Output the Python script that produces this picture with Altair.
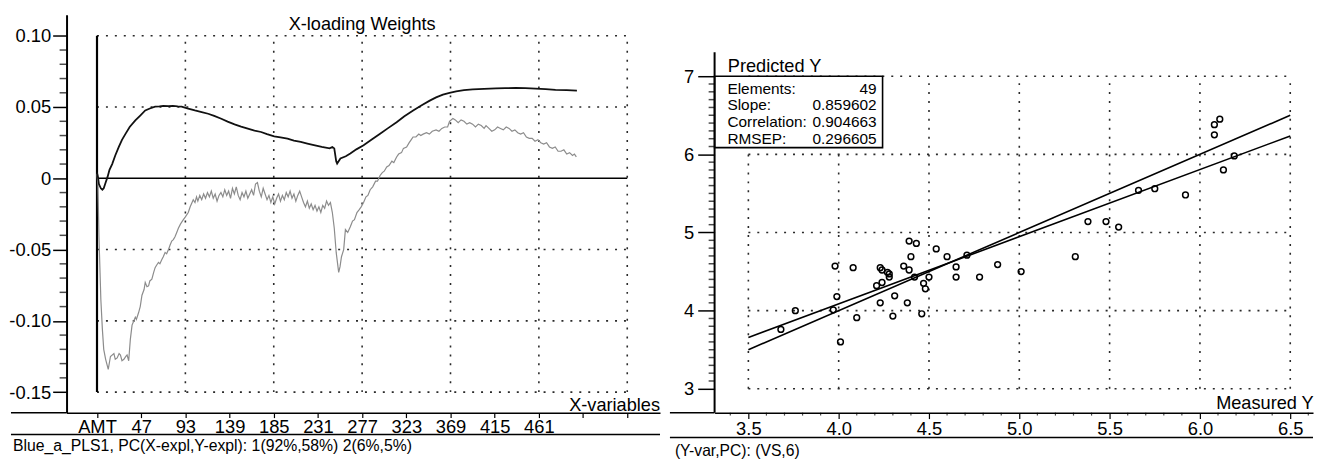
import altair as alt
import pandas as pd

FONT = "Liberation Sans"

# ---------------- Left panel: X-loading weights ----------------
pc1_x = [1, 2, 3, 5, 6.6, 8, 10, 12, 14, 16.8, 20, 23.7, 27, 30.5, 35, 40.9, 46, 51.2, 56, 61.5,
         66, 70, 75.4, 80, 85, 89.1, 95, 102.9, 110, 116.7, 123, 130.4, 137, 144.2, 151, 158,
         165, 171.8, 178, 185.5, 192, 199.3, 206, 213.1, 220, 226.8, 235, 243.1, 246, 248, 250,
         251, 254.4, 260, 264.7, 271, 278.5, 287, 295.7, 304, 312.9, 321, 330.1, 339, 347.4,
         354, 361.1, 368, 374.9, 383, 392.1, 404, 416.3, 426, 436.9, 447, 457.6, 468, 478.3,
         490, 500.6]
pc1_w = [0.004, 0.001, -0.004, -0.007, -0.008, -0.007, -0.003, 0.001, 0.006, 0.010, 0.016, 0.022,
         0.027, 0.031, 0.036, 0.0406, 0.044, 0.0476, 0.049, 0.0503, 0.0505, 0.0508, 0.0506,
         0.0508, 0.0504, 0.0503, 0.049, 0.0476, 0.0465, 0.0453, 0.0438, 0.0418, 0.0398, 0.0378,
         0.0362, 0.0348, 0.0335, 0.0325, 0.031, 0.0295, 0.0287, 0.0279, 0.0265, 0.0255, 0.0243,
         0.0232, 0.022, 0.021, 0.022, 0.021, 0.012, 0.0104, 0.0139, 0.0155, 0.0174, 0.0203,
         0.0232, 0.0272, 0.0313, 0.0352, 0.0394, 0.0435, 0.0476, 0.0512, 0.0545, 0.0568, 0.0587,
         0.0600, 0.061, 0.0618, 0.0624, 0.0628, 0.0631, 0.0633, 0.0634, 0.0632, 0.0629, 0.0625,
         0.062, 0.0618, 0.0615]

pc2_x = [1, 2, 3, 5, 6.6, 8, 10, 12.7, 15, 18.6, 20, 22, 24, 25.4, 27, 29, 31, 32.3, 34, 35.7,
         37.5, 40.9, 42, 44.4, 46, 47.8, 50, 51.2, 53, 54.7, 56, 58.1, 60, 61.5, 63, 65, 66.5,
         68.5, 70, 71.9, 73.5, 75.4, 77, 78.8, 80.5, 82.2, 84, 85.7, 88, 90.9, 93, 96, 98, 101.2,
         103, 104.6,
         106, 108, 110, 112, 114, 116, 118, 120, 122, 124, 126, 128, 130, 132, 134, 136, 138,
         140, 142, 144, 146, 148, 150, 152, 154, 156, 158, 160, 162, 164, 166, 168, 170, 172,
         174, 176, 178, 180, 182, 184, 186, 188, 190, 192, 194, 196, 198, 200, 202, 204, 206,
         208, 210, 212, 214, 216, 218, 220, 222, 224, 226, 228, 230, 232, 234, 236, 238, 240,
         242, 244, 246,
         248, 250, 252.6, 254, 255.5, 257.8, 259.6, 262, 264.7, 267, 269, 271.6, 274, 276, 278.5,
         281, 283, 285.4, 288, 291, 293, 295.7, 298, 300, 302.6, 305, 308, 310, 312.9, 315, 318,
         320, 323.3, 326, 328, 330, 333, 336, 338, 340.5, 344, 347, 350, 354, 357, 360, 363,
         366, 368, 371.5, 374, 377, 380, 383, 386, 389, 392, 395, 398, 401, 404, 406, 409, 412,
         415, 418, 421, 424, 427, 430, 433, 436, 439, 442, 445, 448, 451, 454, 457, 460, 463,
         466, 469, 472, 475, 478, 481, 484, 487, 490, 493, 496, 498, 500]
pc2_w = [0.003, -0.005, -0.04, -0.085, -0.106, -0.12, -0.127, -0.134, -0.125, -0.123, -0.127,
         -0.126, -0.123, -0.124, -0.128, -0.127, -0.125, -0.124, -0.128, -0.113, -0.103, -0.0975,
         -0.099, -0.094, -0.09, -0.082, -0.078, -0.073, -0.076, -0.0755, -0.072, -0.0708, -0.066,
         -0.0627, -0.061, -0.059, -0.06, -0.057, -0.055, -0.052, -0.053, -0.050, -0.047, -0.044,
         -0.043, -0.041, -0.038, -0.035, -0.032, -0.029, -0.027, -0.024, -0.02, -0.015, -0.017,
         -0.013,
         -0.016, -0.012, -0.015, -0.011, -0.014, -0.010, -0.013, -0.009, -0.014, -0.011, -0.016,
         -0.012, -0.010, -0.013, -0.008, -0.012, -0.009, -0.014, -0.007, -0.011, -0.006, -0.012,
         -0.015, -0.010, -0.013, -0.009, -0.014, -0.011, -0.008, -0.012, -0.004, -0.003, -0.009,
         -0.013, -0.007, -0.011, -0.015, -0.012, -0.017, -0.013, -0.018, -0.014, -0.011, -0.016,
         -0.012, -0.015, -0.010, -0.013, -0.009, -0.014, -0.011, -0.016, -0.012, -0.009, -0.013,
         -0.017, -0.020, -0.016, -0.021, -0.018, -0.022, -0.019, -0.023, -0.020, -0.024, -0.019,
         -0.021, -0.016, -0.019, -0.017, -0.024,
         -0.035, -0.052, -0.066, -0.062, -0.055, -0.05, -0.036, -0.038, -0.034, -0.03, -0.029,
         -0.024, -0.022, -0.020, -0.017, -0.013, -0.012, -0.008, -0.006, -0.002, -0.002, 0.002,
         0.004, 0.005, 0.008, 0.009, 0.012, 0.011, 0.015, 0.017, 0.018, 0.021, 0.022, 0.025,
         0.027, 0.029, 0.029, 0.031, 0.030, 0.031, 0.032, 0.031, 0.033, 0.034, 0.033, 0.035,
         0.036, 0.036, 0.040, 0.042, 0.041, 0.039, 0.041, 0.040, 0.038, 0.039, 0.038, 0.036,
         0.038, 0.037, 0.035, 0.037, 0.035, 0.033, 0.034, 0.036, 0.035, 0.034, 0.036, 0.035,
         0.033, 0.034, 0.032, 0.031, 0.032, 0.029, 0.028, 0.028, 0.026, 0.027, 0.025, 0.024,
         0.025, 0.022, 0.021, 0.022, 0.019, 0.019, 0.020, 0.017, 0.018, 0.016, 0.017, 0.015]

left_vgrid = [93, 185, 277, 369, 461, 553]
left_hgrid = [0.10, 0.05, -0.05, -0.10, -0.15]
left_xtick_values = [1, 47, 93, 139, 185, 231, 277, 323, 369, 415, 461, 507, 553]
left_xtick_labels = ["AMT", "47", "93", "139", "185", "231", "277", "323", "369", "415", "461", "", ""]
left_ytick_values = [0.10, 0.05, 0.0, -0.05, -0.10, -0.15]
left_ytick_labels = ["0.10", "0.05", "0", "-0.05", "-0.10", "-0.15"]
left_yminor = [round(-0.15 + 0.01 * i, 2) for i in range(26) if i % 5 != 0]
left_title = "X-loading Weights"
left_xtitle = "X-variables"
left_footer = "Blue_a_PLS1, PC(X-expl,Y-expl): 1(92%,58%) 2(6%,5%)"

# ---------------- Right panel: Predicted vs measured ----------------
measured_y = [3.68, 3.76, 3.98, 3.99, 3.97, 4.01, 4.08, 4.10, 4.23, 4.24, 4.28, 4.28, 4.21, 4.24,
              4.23, 4.31, 4.30, 4.39, 4.43, 4.40, 4.36, 4.39, 4.42, 4.38, 4.47, 4.48, 4.46, 4.50,
              4.54, 4.60, 4.65, 4.65, 4.71, 4.78, 4.88, 5.01, 5.31, 5.38, 5.48, 5.55, 5.66, 5.75,
              5.92, 6.08, 6.08, 6.11, 6.13, 6.19, 4.27]
predicted_y = [3.76, 4.00, 4.57, 4.18, 4.01, 3.60, 4.55, 3.91, 4.55, 4.52, 4.47, 4.43, 4.32, 4.36,
               4.10, 4.19, 3.93, 4.89, 4.86, 4.69, 4.57, 4.52, 4.43, 4.10, 4.35, 4.28, 3.96, 4.43,
               4.79, 4.69, 4.56, 4.43, 4.71, 4.43, 4.59, 4.50, 4.69, 5.14, 5.14, 5.07, 5.54, 5.56,
               5.48, 6.25, 6.38, 6.45, 5.80, 5.98, 4.49]
line_x = [3.5, 6.5]
target_y = [3.5, 6.5]
regression_y = [3.657, 6.235]
right_vgrid = [3.5, 4.0, 4.5, 5.0, 5.5, 6.0, 6.5]
right_hgrid = [3, 4, 5, 6, 7]
right_xminor = [round(3.4 + 0.1 * i, 1) for i in range(33) if (i + 4) % 5 != 0]
right_yminor = [round(3.0 + 0.1 * i, 1) for i in range(41) if i % 10 != 0]
stat_labels = ["Elements:", "Slope:", "Correlation:", "RMSEP:"]
stat_values = ["49", "0.859602", "0.904663", "0.296605"]
right_ytitle = "Predicted Y"
right_xtitle = "Measured Y"
right_footer = "(Y-var,PC): (VS,6)"

# ---------------- layout ----------------
W_L, W_R, H = 598, 603, 401
LX = alt.Scale(domain=[-30.7, 587.1], nice=False, zero=False)
LY = alt.Scale(domain=[-0.1644, 0.1148], nice=False, zero=False)
RX = alt.Scale(domain=[3.313, 6.626], nice=False, zero=False)
RY = alt.Scale(domain=[2.695, 7.787], nice=False, zero=False)

DOT = dict(strokeDash=[2, 7], color="#2a2a2a", strokeWidth=1.6)
TICK_FS = 18.5
TXT_FS = 18.3
STAT_FS = 15.5


def label_expr(values, labels, tol):
    parts = [f"abs(datum.value - ({v})) < {tol} ? '{l}'" for v, l in zip(values, labels)]
    return " : ".join(parts) + " : ''"


left_x_axis = alt.Axis(values=left_xtick_values, labelExpr=label_expr(left_xtick_values, left_xtick_labels, 0.5),
                       tickSize=5, tickColor="black", tickWidth=1.2, domainColor="black", domainWidth=1.5,
                       labelFont=FONT, labelFontSize=TICK_FS, labelColor="black", labelPadding=0,
                       labelFlush=False, labelOverlap=False, grid=False, title=None)
left_y_axis = alt.Axis(values=left_ytick_values, labelExpr=label_expr(left_ytick_values, left_ytick_labels, 0.001),
                       tickSize=14, tickColor="black", tickWidth=1.5, domainColor="black", domainWidth=2,
                       labelFont=FONT, labelFontSize=TICK_FS, labelColor="black", labelPadding=2,
                       labelOverlap=False, labelFlush=False, grid=False, title=None)
right_x_axis = alt.Axis(values=right_vgrid,
                        labelExpr=label_expr(right_vgrid, [f"{v:.1f}" for v in right_vgrid], 0.001),
                        tickSize=6, tickColor="black", tickWidth=1.2, domainColor="black", domainWidth=1.5,
                        labelFont=FONT, labelFontSize=TICK_FS, labelColor="black", labelPadding=1,
                        labelFlush=False, labelOverlap=False, grid=False, title=None)
right_y_axis = alt.Axis(values=right_hgrid,
                        labelExpr=label_expr(right_hgrid, [str(v) for v in right_hgrid], 0.001),
                        tickSize=17, tickColor="black", tickWidth=1.5, domain=False,
                        labelFont=FONT, labelFontSize=TICK_FS, labelColor="black", labelPadding=4,
                        labelFlush=False, labelOverlap=False, grid=False, title=None)


def LXe(f):
    return alt.X(f, type="quantitative", scale=LX, axis=left_x_axis)


def LYe(f):
    return alt.Y(f, type="quantitative", scale=LY, axis=left_y_axis)


def RXe(f):
    return alt.X(f, type="quantitative", scale=RX, axis=right_x_axis)


def RYe(f):
    return alt.Y(f, type="quantitative", scale=RY, axis=right_y_axis)


# ----- left layers -----
lv = pd.DataFrame({"g": left_vgrid, "a": -0.15, "b": 0.10})
lh = pd.DataFrame({"g": left_hgrid, "a": 1, "b": 553})
l_vgrid = alt.Chart(lv).mark_rule(**DOT).encode(x=LXe("g"), y=LYe("a"), y2="b")
l_hgrid = alt.Chart(lh).mark_rule(**DOT).encode(y=LYe("g"), x=LXe("a"), x2="b")
l_zero = alt.Chart(pd.DataFrame({"g": [0.0], "a": [1], "b": [553]})).mark_rule(
    color="black", strokeWidth=1.6).encode(y=LYe("g"), x=LXe("a"), x2="b")
l_frame = alt.Chart(pd.DataFrame({"g": [1], "a": [-0.15], "b": [0.10]})).mark_rule(
    color="black", strokeWidth=2.2).encode(x=LXe("g"), y=LYe("a"), y2="b")
l_minor = alt.Chart(pd.DataFrame({"g": left_yminor})).mark_tick(
    color="black", thickness=1.5, size=7, orient="horizontal").encode(
    y=LYe("g"), x=alt.value(-3.5))
l_pc2 = alt.Chart(pd.DataFrame({"x": pc2_x, "w": pc2_w})).mark_line(color="#8c8c8c", strokeWidth=1.2).encode(
    x=LXe("x"), y=LYe("w"))
l_pc1 = alt.Chart(pd.DataFrame({"x": pc1_x, "w": pc1_w})).mark_line(color="#111111", strokeWidth=1.8).encode(
    x=LXe("x"), y=LYe("w"))
l_text = alt.Chart(pd.DataFrame({"x": [277], "y": [0.1044], "t": [left_title]})).mark_text(
    font=FONT, fontSize=TXT_FS, align="center", baseline="alphabetic", color="black").encode(
    x=LXe("x"), y=LYe("y"), text="t:N")
l_xtitle = alt.Chart(pd.DataFrame({"x": [587.1], "y": [-0.1630], "t": [left_xtitle]})).mark_text(
    font=FONT, fontSize=TXT_FS, align="right", baseline="alphabetic", color="black").encode(
    x=LXe("x"), y=LYe("y"), text="t:N")
l_deco = alt.Chart(pd.DataFrame({"x": [-56, -56], "x2": [0, W_L], "y": [H, H + 22]})).mark_rule(
    color="black", strokeWidth=1.5).encode(
    x=alt.X("x:Q", scale=None), x2="x2", y=alt.Y("y:Q", scale=None))
l_footer = alt.Chart(pd.DataFrame({"x": [-54], "y": [H + 34], "t": [left_footer]})).mark_text(
    font=FONT, fontSize=15.9, align="left", baseline="middle", color="black").encode(
    x=alt.X("x:Q", scale=None), y=alt.Y("y:Q", scale=None), text="t:N")

left = alt.layer(l_vgrid, l_hgrid, l_zero, l_frame, l_minor, l_pc2, l_pc1, l_text, l_xtitle,
                 ).properties(width=W_L, height=H)

# ----- right layers -----
rv = pd.DataFrame({"g": right_vgrid, "a": 3.0, "b": 7.0})
rh = pd.DataFrame({"g": right_hgrid, "a": 3.5, "b": 6.5})
r_vgrid = alt.Chart(rv).mark_rule(**DOT).encode(x=RXe("g"), y=RYe("a"), y2="b")
r_hgrid = alt.Chart(rh).mark_rule(**DOT).encode(y=RYe("g"), x=RXe("a"), x2="b")
fit_df = pd.DataFrame({"x": line_x * 2, "y": target_y + regression_y,
                       "line": ["target"] * 2 + ["regression"] * 2})
r_lines = alt.Chart(fit_df).mark_line(color="black", strokeWidth=1.6).encode(
    x=RXe("x"), y=RYe("y"), detail="line:N")
r_points = alt.Chart(pd.DataFrame({"m": measured_y, "p": predicted_y})).mark_point(
    shape="circle", filled=False, color="black", size=34, strokeWidth=1.5, opacity=1).encode(
    x=RXe("m"), y=RYe("p"))
r_box = alt.Chart(pd.DataFrame({"x": [3.313], "x2": [4.243], "y": [6.086], "y2": [7.0]})).mark_rect(
    fill="white", stroke="black", strokeWidth=1.6).encode(x=RXe("x"), x2="x2", y=RYe("y"), y2="y2")
stat_df = pd.DataFrame({"label": stat_labels, "value": stat_values,
                        "row": [6.841, 6.628, 6.415, 6.201], "lx": 3.384, "vx": 4.21})
r_stat_l = alt.Chart(stat_df).mark_text(font=FONT, fontSize=STAT_FS, align="left", baseline="middle",
                                        color="black").encode(
    x=RXe("lx"), y=RYe("row"), text="label:N")
r_stat_v = alt.Chart(stat_df).mark_text(font=FONT, fontSize=STAT_FS, align="right", baseline="middle",
                                        color="black").encode(
    x=RXe("vx"), y=RYe("row"), text="value:N")
r_titles = alt.Chart(pd.DataFrame({"x": [3.386], "y": [7.051], "t": [right_ytitle]})).mark_text(
    font=FONT, fontSize=TXT_FS, align="left", baseline="alphabetic", color="black").encode(
    x=RXe("x"), y=RYe("y"), text="t:N")
r_xtitle = alt.Chart(pd.DataFrame({"x": [6.63], "y": [2.74], "t": [right_xtitle]})).mark_text(
    font=FONT, fontSize=TXT_FS, align="right", baseline="alphabetic", color="black").encode(
    x=RXe("x"), y=RYe("y"), text="t:N")
r_yline = alt.Chart(pd.DataFrame({"g": [3.313], "a": [2.695], "b": [7.305]})).mark_rule(
    color="black", strokeWidth=2).encode(x=RXe("g"), y=RYe("a"), y2="b")
r_yminor = alt.Chart(pd.DataFrame({"g": right_yminor})).mark_tick(
    color="black", thickness=1.5, size=6, orient="horizontal").encode(
    y=RYe("g"), x=alt.value(-3))
r_xminor = alt.Chart(pd.DataFrame({"g": right_xminor})).mark_tick(
    color="black", thickness=1.2, size=3, orient="vertical").encode(
    x=RXe("g"), y=alt.value(H + 1.5))
r_deco = alt.Chart(pd.DataFrame({"x": [-45, -45], "x2": [0, W_R], "y": [H, H + 25]})).mark_rule(
    color="black", strokeWidth=1.5).encode(
    x=alt.X("x:Q", scale=None), x2="x2", y=alt.Y("y:Q", scale=None))
r_footer = alt.Chart(pd.DataFrame({"x": [-40], "y": [H + 39], "t": [right_footer]})).mark_text(
    font=FONT, fontSize=15.8, align="left", baseline="middle", color="black").encode(
    x=alt.X("x:Q", scale=None), y=alt.Y("y:Q", scale=None), text="t:N")

right = alt.layer(r_vgrid, r_hgrid, r_lines, r_points, r_box, r_stat_l, r_stat_v, r_titles,
                  r_xtitle, r_yline, r_yminor, r_xminor).properties(width=W_R, height=H)

chart = alt.hconcat(
    alt.layer(left, l_deco, l_footer).properties(width=W_L, height=H),
    alt.layer(right, r_deco, r_footer).properties(width=W_R, height=H),
    spacing=8,
).properties(
    padding={"top": 4, "left": 0, "right": 0, "bottom": 0},
    background="white",
).configure_view(stroke=None).configure_axis(
    labelFont=FONT, labelFontSize=TICK_FS, labelColor="black"
)

chart.save("out.html", embed_options={"renderer": "svg", "actions": False})
